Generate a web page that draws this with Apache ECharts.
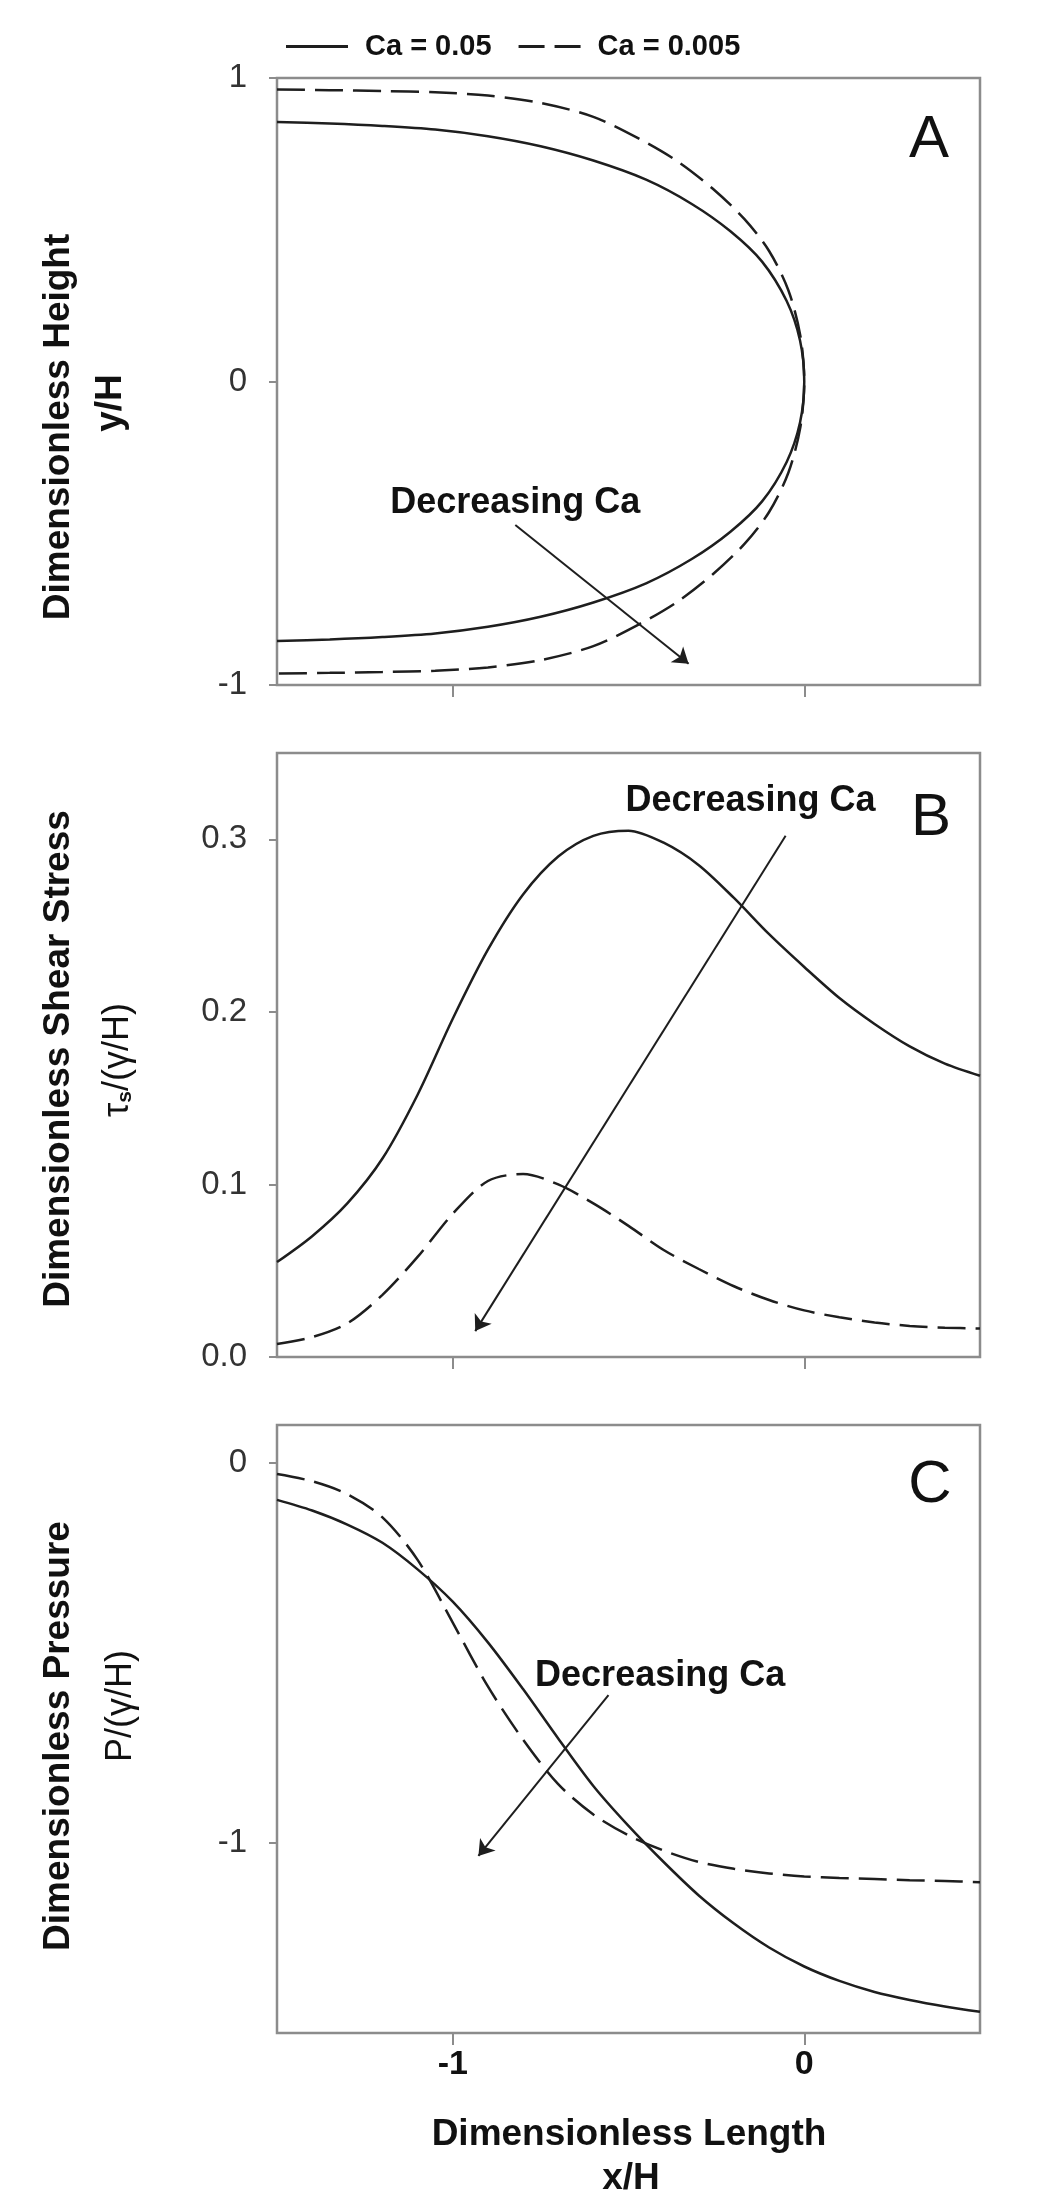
<!DOCTYPE html>
<html>
<head>
<meta charset="utf-8">
<script src="https://cdn.jsdelivr.net/npm/echarts@6/dist/echarts.min.js"></script>
<style>
html,body{margin:0;padding:0;background:#fff;}
#chart{width:1050px;height:2211px;}
</style>
</head>
<body>
<div id="chart"></div>
<script>
// ---------- DATA ----------
const legendNames = ['Ca = 0.05', 'Ca = 0.005'];
const xTickValues = [-1, 0];
const aYTickValues = [-1, 0, 1];
const bYTickValues = [0, 0.1, 0.2, 0.3];
const cYTickValues = [-1, 0];

// Panel A: meniscus shape (x/H, y/H), traced top-left -> tip -> bottom-left
const aSolidX = [-1.5, -1.35, -1.2, -1.05, -0.9, -0.75, -0.6, -0.45, -0.32, -0.21, -0.12, -0.05, -0.012, 0,
                 -0.012, -0.05, -0.12, -0.21, -0.32, -0.45, -0.6, -0.75, -0.9, -1.05, -1.2, -1.35, -1.5];
const aSolidY = [0.855, 0.85, 0.842, 0.83, 0.808, 0.775, 0.728, 0.665, 0.585, 0.495, 0.395, 0.265, 0.135, 0,
                 -0.135, -0.265, -0.395, -0.495, -0.585, -0.665, -0.728, -0.775, -0.808, -0.83, -0.842, -0.85, -0.855];
const aDashX = [-1.5, -1.35, -1.2, -1.05, -0.9, -0.75, -0.6, -0.47, -0.36, -0.26, -0.17, -0.1, -0.045, -0.011, 0,
                -0.011, -0.045, -0.1, -0.17, -0.26, -0.36, -0.47, -0.6, -0.75, -0.9, -1.05, -1.2, -1.35, -1.5];
const aDashY = [0.962, 0.96, 0.957, 0.953, 0.942, 0.918, 0.872, 0.8, 0.725, 0.635, 0.535, 0.43, 0.3, 0.15, 0,
                -0.15, -0.3, -0.43, -0.535, -0.635, -0.725, -0.8, -0.872, -0.918, -0.942, -0.953, -0.957, -0.96, -0.962];

// Panel B: shear stress
const bX = [-1.5, -1.4, -1.3, -1.2, -1.1, -1.0, -0.9, -0.8, -0.7, -0.6, -0.5, -0.4, -0.3, -0.2, -0.1, 0, 0.1, 0.2, 0.3, 0.4, 0.5];
const bSolidY = [0.055, 0.07, 0.089, 0.115, 0.152, 0.196, 0.236, 0.268, 0.29, 0.302, 0.305, 0.298, 0.285, 0.266, 0.245, 0.226, 0.208, 0.193, 0.18, 0.17, 0.163];
const bDashY = [0.0075, 0.0115, 0.0195, 0.036, 0.058, 0.083, 0.102, 0.106, 0.1, 0.089, 0.076, 0.062, 0.051, 0.041, 0.033, 0.027, 0.023, 0.02, 0.018, 0.017, 0.0165];

// Panel C: pressure
const cX = [-1.5, -1.4, -1.3, -1.2, -1.1, -1.0, -0.9, -0.8, -0.7, -0.6, -0.5, -0.4, -0.3, -0.2, -0.1, 0, 0.1, 0.2, 0.3, 0.4, 0.5];
const cSolidY = [-0.097, -0.125, -0.162, -0.21, -0.28, -0.365, -0.472, -0.595, -0.725, -0.85, -0.955, -1.05, -1.138, -1.212, -1.275, -1.325, -1.363, -1.392, -1.413, -1.43, -1.444];
const cDashY = [-0.029, -0.048, -0.082, -0.143, -0.255, -0.42, -0.588, -0.728, -0.845, -0.925, -0.98, -1.02, -1.05, -1.068, -1.08, -1.088, -1.092, -1.095, -1.098, -1.1, -1.103];

// Annotations (data coordinates)
const annotText = 'Decreasing Ca';
const arrowA = [[-0.822, -0.473], [-0.329, -0.930]];
const labelA = [-0.822, -0.399];
const arrowB = [[-0.053, 0.302], [-0.936, 0.015]];
const labelB = [-0.153, 0.322];
const arrowC = [[-0.557, -0.611], [-0.927, -1.034]];
const labelC = [-0.41, -0.561];

// ---------- CHART ----------
const zip = (xs, ys) => xs.map((x, i) => [x, ys[i]]);
const FONT = '"Liberation Sans", Arial, sans-serif';
const frameColor = '#8c8c8c';
const inkColor = '#1e1e1e';
const dash = [28, 10];

const grids = [
  {left: 277, top: 78, width: 703, height: 607},
  {left: 277, top: 753, width: 703, height: 604},
  {left: 277, top: 1425, width: 703, height: 608}
].map(g => Object.assign({show: true, borderColor: frameColor, borderWidth: 2.5, backgroundColor: 'transparent'}, g));

function xAxis(i) {
  return {
    type: 'value', gridIndex: i, min: -1.5, max: 0.5,
    axisLine: {show: false, onZero: false}, splitLine: {show: false},
    axisTick: {show: true, inside: false, length: 12, customValues: xTickValues,
               lineStyle: {color: frameColor, width: 2}},
    axisLabel: {show: i === 2, customValues: xTickValues, margin: 15,
                fontSize: 34, fontWeight: 'bold', color: '#111', fontFamily: FONT,
                formatter: v => String(v)}
  };
}
function yAxis(i, min, max, ticks, fmt) {
  return {
    type: 'value', gridIndex: i, min: min, max: max,
    axisLine: {show: false, onZero: false}, splitLine: {show: false},
    axisTick: {show: true, inside: false, length: 8, customValues: ticks,
               lineStyle: {color: frameColor, width: 2}},
    axisLabel: {show: true, customValues: ticks, margin: 30,
                fontSize: 33, color: '#333', fontFamily: FONT, formatter: fmt}
  };
}

function lineSeries(name, idx, xs, ys, dashed, extra) {
  return Object.assign({
    name: name, type: 'line', xAxisIndex: idx, yAxisIndex: idx,
    data: zip(xs, ys), smooth: 0.3, symbol: 'none', showSymbol: false,
    clip: true, silent: true,
    itemStyle: {color: inkColor},
    lineStyle: {color: inkColor, width: 2.5, type: dashed ? dash : 'solid'}
  }, extra || {});
}

function annot(arrow, label) {
  return {
    markLine: {
      silent: true, animation: false,
      symbol: ['none', 'arrow'], symbolSize: 15,
      lineStyle: {color: inkColor, width: 2, type: 'solid'},
      label: {show: false},
      data: [[{coord: arrow[0]}, {coord: arrow[1]}]]
    },
    markPoint: {
      silent: true, animation: false,
      symbol: 'circle', symbolSize: 1,
      itemStyle: {color: 'rgba(0,0,0,0)'},
      label: {show: true, position: 'inside', formatter: annotText,
              fontSize: 36, fontWeight: 'bold', color: '#111', fontFamily: FONT},
      data: [{coord: label}]
    }
  };
}

const titleStyle = (text, size, weight) => ({
  text: text, fontSize: size, fontWeight: weight, fontFamily: FONT, fill: '#111',
  textAlign: 'center', textVerticalAlign: 'middle', align: 'center', verticalAlign: 'middle'
});

const option = {
  animation: false,
  backgroundColor: '#fff',
  textStyle: {fontFamily: FONT},
  legend: {
    data: [
      {name: legendNames[0], icon: 'path://M0,0L62,0L62,3L0,3Z'},
      {name: legendNames[1], icon: 'path://M0,0L26,0L26,3L0,3Z M36,0L62,0L62,3L36,3Z'}
    ],
    left: 281, top: 27, itemWidth: 62, itemHeight: 3, itemGap: 27,
    symbolKeepAspect: false,
    itemStyle: {color: inkColor, borderWidth: 0},
    textStyle: {fontSize: 29, fontWeight: 'bold', color: '#111', fontFamily: FONT, padding: [0, 0, 0, 12]},
    selectedMode: false
  },
  grid: grids,
  xAxis: [xAxis(0), xAxis(1), xAxis(2)],
  yAxis: [
    yAxis(0, -1, 1, aYTickValues, v => String(v)),
    yAxis(1, 0, 0.35, bYTickValues, v => v.toFixed(1)),
    yAxis(2, -1.5, 0.1, cYTickValues, v => String(v))
  ],
  series: [
    lineSeries(legendNames[0], 0, aSolidX, aSolidY, false, annot(arrowA, labelA)),
    lineSeries(legendNames[1], 0, aDashX, aDashY, true),
    lineSeries(legendNames[0], 1, bX, bSolidY, false, annot(arrowB, labelB)),
    lineSeries(legendNames[1], 1, bX, bDashY, true),
    lineSeries(legendNames[0], 2, cX, cSolidY, false, annot(arrowC, labelC)),
    lineSeries(legendNames[1], 2, cX, cDashY, true)
  ],
  graphic: [
    // panel letters
    {type: 'text', x: 929, y: 140, style: titleStyle('A', 60, 'normal')},
    {type: 'text', x: 931, y: 818, style: titleStyle('B', 60, 'normal')},
    {type: 'text', x: 930, y: 1485, style: titleStyle('C', 60, 'normal')},
    // y axis titles
    {type: 'text', x: 59, y: 427, rotation: Math.PI / 2, style: titleStyle('Dimensionless Height', 37, 'bold')},
    {type: 'text', x: 111, y: 403, rotation: Math.PI / 2, style: titleStyle('y/H', 37, 'bold')},
    {type: 'text', x: 59, y: 1059, rotation: Math.PI / 2, style: titleStyle('Dimensionless Shear Stress', 37, 'bold')},
    {type: 'text', x: 116, y: 1060, rotation: Math.PI / 2, style: {
      text: '{m|τ}{s|s}{m|/(γ/H)}', fill: '#111', fontFamily: FONT,
      textAlign: 'center', textVerticalAlign: 'middle', align: 'center', verticalAlign: 'middle',
      rich: {
        m: {fontSize: 36, fontFamily: FONT, fill: '#111', color: '#111', lineHeight: 40, verticalAlign: 'bottom'},
        s: {fontSize: 21, fontWeight: 'bold', fontFamily: FONT, fill: '#111', color: '#111', lineHeight: 30, verticalAlign: 'bottom'}
      }
    }},
    {type: 'text', x: 59, y: 1736, rotation: Math.PI / 2, style: titleStyle('Dimensionless Pressure', 37, 'bold')},
    {type: 'text', x: 121, y: 1706, rotation: Math.PI / 2, style: titleStyle('P/(γ/H)', 36, 'normal')},
    // x axis title
    {type: 'text', x: 629, y: 2135, style: titleStyle('Dimensionless Length', 37, 'bold')},
    {type: 'text', x: 631, y: 2179, style: titleStyle('x/H', 37, 'bold')}
  ]
};

const chart = echarts.init(document.getElementById('chart'), null, {renderer: 'canvas'});
chart.setOption(option);
</script>
</body>
</html>
